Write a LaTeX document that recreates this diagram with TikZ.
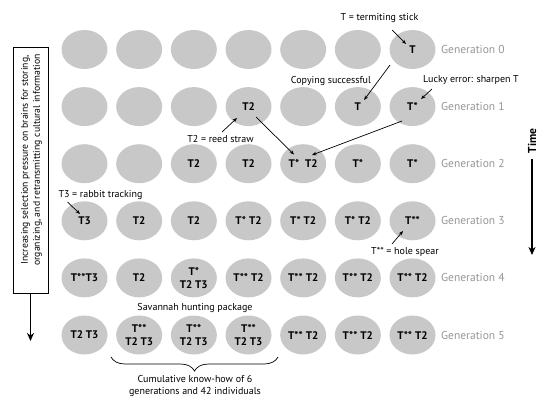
\documentclass[tikz,border=0pt]{standalone}
\usepackage{fontspec}
\setmainfont{PT Sans}
\usetikzlibrary{shapes.geometric,arrows.meta,decorations.pathreplacing}
\definecolor{cellgray}{RGB}{200,200,200}
\definecolor{gentext}{RGB}{150,150,150}
\newcommand\cellnode[3]{\node[cell] (e#1#2) at ({84.5+54.67*(#2-1)},{49.5+57.1*#1}) {#3};}
\newcommand\gennode[1]{\node[gen] (g#1) at (441,{49.5+57.1*#1}) {Generation #1};}
\begin{document}
\begin{tikzpicture}[x=1pt,y=-1pt,
  cell/.style={ellipse,fill=cellgray,minimum width=46pt,minimum height=39pt,inner sep=0pt,
    font=\fontsize{11}{13}\selectfont\bfseries,align=center},
  gen/.style={anchor=west,text=gentext,font=\fontsize{11.5}{13}\selectfont,inner sep=0pt},
  lbl/.style={font=\fontsize{10}{12}\selectfont,inner sep=0pt,align=center},
  arr/.style={line width=0.7pt,-{Stealth[length=4.5pt,width=3.5pt]}},
  bigarr/.style={line width=1.8pt,-{Stealth[length=8pt,width=7pt,inset=2.5pt]}}]
\useasboundingbox (0,0) rectangle (548,407);
% row 0
\cellnode{0}{1}{}\cellnode{0}{2}{}\cellnode{0}{3}{}\cellnode{0}{4}{}\cellnode{0}{5}{}\cellnode{0}{6}{}\cellnode{0}{7}{T}
% row 1
\cellnode{1}{1}{}\cellnode{1}{2}{}\cellnode{1}{3}{}\cellnode{1}{4}{T2}\cellnode{1}{5}{}\cellnode{1}{6}{T}\cellnode{1}{7}{T*}
% row 2
\cellnode{2}{1}{}\cellnode{2}{2}{}\cellnode{2}{3}{T2}\cellnode{2}{4}{T2}\cellnode{2}{5}{T*\hspace{6pt}T2}\cellnode{2}{6}{T*}\cellnode{2}{7}{T*}
% row 3
\cellnode{3}{1}{T3}\cellnode{3}{2}{T2}\cellnode{3}{3}{T2}\cellnode{3}{4}{T*\hspace{3pt}T2}\cellnode{3}{5}{T*\hspace{3pt}T2}\cellnode{3}{6}{T*\hspace{3pt}T2}\cellnode{3}{7}{T**}
% row 4
\cellnode{4}{1}{T**T3}\cellnode{4}{2}{T2}\cellnode{4}{3}{T*\\T2 T3}\cellnode{4}{4}{T**\hspace{3pt}T2}\cellnode{4}{5}{T**\hspace{3pt}T2}\cellnode{4}{6}{T**\hspace{3pt}T2}\cellnode{4}{7}{T**\hspace{3pt}T2}
% row 5
\cellnode{5}{1}{T2 T3}\cellnode{5}{2}{T**\\T2 T3}\cellnode{5}{3}{T**\\T2 T3}\cellnode{5}{4}{T**\\T2 T3}\cellnode{5}{5}{T**\hspace{3pt}T2}\cellnode{5}{6}{T**\hspace{3pt}T2}\cellnode{5}{7}{T**\hspace{3pt}T2}
% generation labels
\gennode{0}\gennode{1}\gennode{2}\gennode{3}\gennode{4}\gennode{5}
% labels
\node[lbl] (lT) at (379.5,18) {T = termiting stick};
\node[lbl] (lC) at (331,81) {Copying successful};
\node[lbl] (lL) at (471,80) {Lucky error: sharpen T};
\node[lbl] (lR) at (220.5,139) {T2 = reed straw};
\node[lbl] (lB) at (100.5,195) {T3 = rabbit tracking};
\node[lbl] (lH) at (405,252) {T** = hole spear};
\node[lbl] (lS) at (195,308) {Savannah hunting package};
\node[lbl,font=\fontsize{10}{12.5}\selectfont] (lK) at (195,386) {Cumulative know-how of 6\\generations and 42 individuals};
% arrows
\draw[arr] ([xshift=12.5pt,yshift=-12pt]lT.center) -- ([xshift=-6.5pt,yshift=5.5pt]e07.center);
\draw[arr] ([xshift=-22.5pt,yshift=-15.5pt]e07.center) -- ([xshift=6.2pt,yshift=6.6pt]e16.center);
\draw[arr] ([xshift=-39pt,yshift=-9pt]lL.center) -- ([xshift=8.5pt,yshift=7.6pt]e17.center);
\draw[arr] ([xshift=1.5pt,yshift=7pt]lR.center) -- ([xshift=-11.5pt,yshift=-11.4pt]e14.center);
\draw[arr] ([xshift=7.5pt,yshift=-10.4pt]e14.center) -- ([xshift=-9.2pt,yshift=9.2pt]e25.center);
\draw[arr] ([xshift=-10.5pt,yshift=-14.4pt]e17.center) -- ([xshift=8.8pt,yshift=8.7pt]e25.center);
\draw[arr] ([xshift=-33pt,yshift=-7pt]lB.center) -- ([xshift=-4.5pt,yshift=6.8pt]e31.center);
\draw[arr] ([xshift=-13pt,yshift=8pt]lH.center) -- ([xshift=-9.5pt,yshift=-10.2pt]e37.center);
% brace
\coordinate (bL) at (111,357);
\coordinate (bR) at (278,357);
\draw[line width=0.7pt,decorate,decoration={brace,mirror,amplitude=14pt}] (bL) -- (bR);
% left box
\node[draw,line width=0.7pt,minimum width=35pt,minimum height=246pt,inner sep=0pt] (box) at (30.5,170) {};
\node[rotate=90,font=\fontsize{9.7}{12}\selectfont,align=center,inner sep=0pt] (boxtxt) at (31.5,160)
  {Increasing selection pressure on brains for storing,\\organizing, and retransmitting cultural information};
\coordinate (boxend) at (30.5,341);
\draw[bigarr] (box.south) -- (boxend);
% time
\node[rotate=90,font=\fontsize{11.5}{13}\selectfont\bfseries,inner sep=0pt] (time) at (532,141) {Time};
\coordinate (timeend) at (532,255);
\draw[bigarr] ([yshift=-5pt]time.west) -- (timeend);
\end{tikzpicture}
\end{document}
